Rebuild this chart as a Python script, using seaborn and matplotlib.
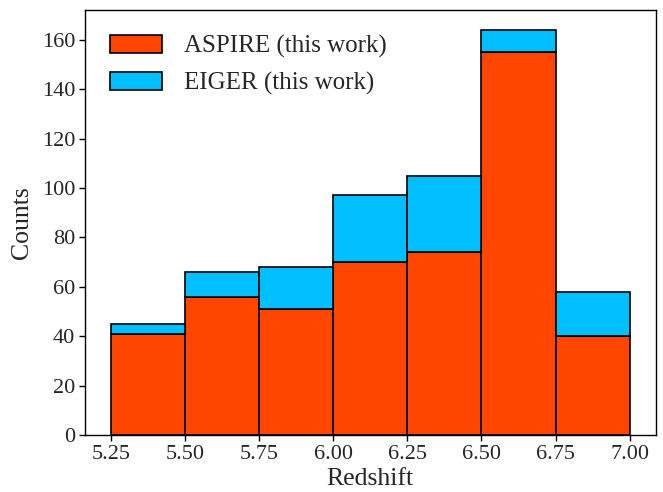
import numpy as np
import pandas as pd
import matplotlib
matplotlib.use("Agg")
import matplotlib.pyplot as plt
import seaborn as sns
from matplotlib.patches import Patch

bin_edges = [5.25, 5.50, 5.75, 6.00, 6.25, 6.50, 6.75, 7.00]
aspire_counts = [41, 56, 51, 70, 74, 155, 40]
eiger_counts = [4, 10, 17, 27, 31, 9, 18]
labels = ["ASPIRE (this work)", "EIGER (this work)"]
colors = ["#FF4500", "#00BFFF"]
xticks = [5.25, 5.50, 5.75, 6.00, 6.25, 6.50, 6.75, 7.00]

sns.set_style("ticks")
plt.rcParams["font.family"] = ["Liberation Serif", "DejaVu Serif"]
plt.rcParams["mathtext.fontset"] = "stix"

centers = [(a + b) / 2 for a, b in zip(bin_edges[:-1], bin_edges[1:])]
df = pd.DataFrame({
    "z": centers * 2,
    "w": aspire_counts + eiger_counts,
    "survey": [labels[0]] * len(centers) + [labels[1]] * len(centers),
})

fig, ax = plt.subplots(figsize=(6.63, 4.92), dpi=100)
sns.histplot(data=df, x="z", weights="w", hue="survey", bins=bin_edges,
             multiple="stack", hue_order=[labels[1], labels[0]],
             palette={labels[0]: colors[0], labels[1]: colors[1]},
             alpha=1, edgecolor="black", linewidth=1.2, legend=False, ax=ax)

ax.set_xticks(xticks)
ax.set_xticklabels([f"{t:.2f}" for t in xticks])
ax.set_xlim(5.1625, 7.0875)
ax.set_ylim(0, 172.2)
ax.set_yticks(range(0, 161, 20))
ax.tick_params(labelsize=16, direction="out", length=4, width=1, color="black", pad=3)
for s in ax.spines.values():
    s.set_color("black")
    s.set_linewidth(1.0)
ax.set_xlabel("Redshift", fontsize=18.5, labelpad=3)
ax.set_ylabel("Counts", fontsize=18.5, labelpad=6)

handles = [Patch(facecolor=colors[0], edgecolor="black", linewidth=1.2, label=labels[0]),
           Patch(facecolor=colors[1], edgecolor="black", linewidth=1.2, label=labels[1])]
ax.legend(handles=handles, loc="upper left", frameon=False, fontsize=18,
          handlelength=2.1, handleheight=0.72, handletextpad=0.85,
          labelspacing=0.55, borderaxespad=0.6)

fig.subplots_adjust(left=0.128, right=0.989, top=0.98, bottom=0.116)
fig.savefig("out.png", dpi=100)
